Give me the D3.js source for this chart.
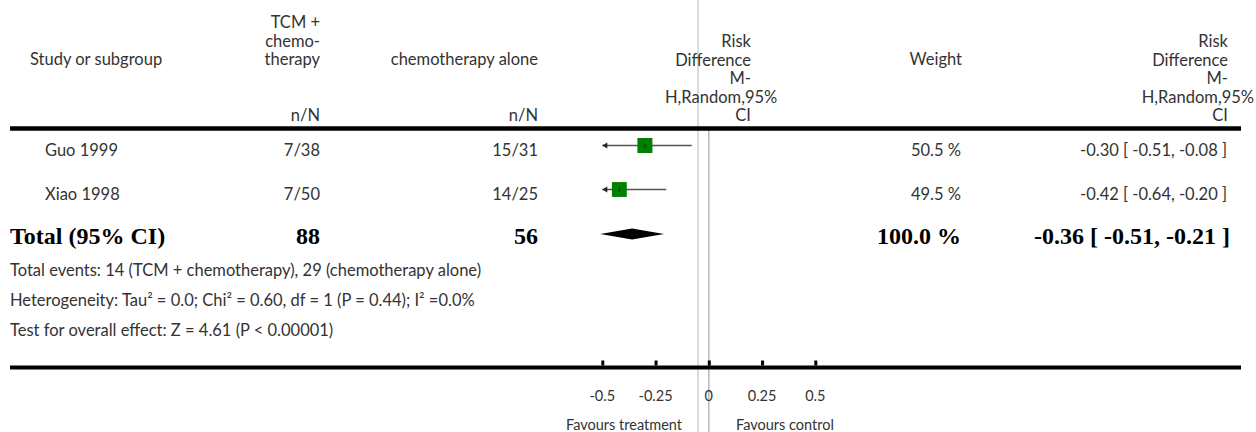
<!DOCTYPE html>
<html><head><meta charset="utf-8">
<script src="https://cdn.jsdelivr.net/npm/d3@7"></script>
<style>
html,body{margin:0;padding:0;background:#fff;}
svg{display:block;}
</style></head>
<body>
<svg id="c" width="1256" height="432"></svg>
<script>
const studies = ["Guo 1999", "Xiao 1998"];
const treatEvents = ["7/38", "7/50"];
const controlEvents = ["15/31", "14/25"];
const weights = [50.5, 49.5];
const estimates = [-0.30, -0.42];
const lower = [-0.51, -0.64];
const upper = [-0.08, -0.20];
const totalLabel = "Total (95% CI)";
const totalTreat = 88;
const totalControl = 56;
const totalWeight = 100.0;
const totalEst = -0.36, totalLo = -0.51, totalHi = -0.21;
const tickValues = [-0.5, -0.25, 0, 0.25, 0.5];
const tickLabels = ["-0.5", "-0.25", "0", "0.25", "0.5"];
const footnotes = [
  "Total events: 14 (TCM + chemotherapy), 29 (chemotherapy alone)",
  "Heterogeneity: Tau² = 0.0; Chi² = 0.60, df = 1 (P = 0.44); I² =0.0%",
  "Test for overall effect: Z = 4.61 (P < 0.00001)"
];
const favours = ["Favours treatment", "Favours control"];

const svg = d3.select("#c");
const SANS = "Lato, 'Open Sans', sans-serif";
const SERIF = "'Liberation Serif', 'Times New Roman', serif";
const FS = 16.5;
const col = "#333";

const x = d3.scaleLinear().domain([-0.5, 0.5]).range([602.3, 815.3]);
const fmt2 = v => d3.format(".2f")(v).replace("−", "-");
const fmtCI = (e, l, h) => `${fmt2(e)} [ ${fmt2(l)}, ${fmt2(h)} ]`;

// vertical light separator and zero line
svg.append("line").attr("x1", 698).attr("x2", 698).attr("y1", 0).attr("y2", 432)
  .attr("stroke", "#dcdcdc").attr("stroke-width", 2);
svg.append("line").attr("x1", x(0)).attr("x2", x(0)).attr("y1", 130).attr("y2", 432)
  .attr("stroke", "#b8b8b8").attr("stroke-width", 1.5);

function txt(s, tx, ty, anchor, opts = {}) {
  return svg.append("text").attr("x", tx).attr("y", ty).attr("text-anchor", anchor || "start")
    .attr("font-family", opts.family || SANS).attr("font-size", opts.size || FS)
    .attr("font-weight", opts.weight || "normal").attr("fill", opts.fill || col).text(s);
}

// header
txt("Study or subgroup", 30, 65, "start");
["TCM +", "chemo-", "therapy"].forEach((s, i) => txt(s, 320, 28 + i * 18.5, "end"));
txt("n/N", 320, 121, "end");
txt("chemotherapy alone", 538, 65, "end");
txt("n/N", 538, 121, "end");
const rdLines = ["Risk", "Difference", "M-", "H,Random,95%", "CI"];
rdLines.forEach((s, i) => {
  if (i === 3) txt(s, 665, 47 + i * 18.5, "start");
  else txt(s, 751, 47 + i * 18.5, "end");
});
txt("Weight", 962, 65, "end");
rdLines.forEach((s, i) => {
  if (i === 3) txt(s, 1254, 47 + i * 18.5, "end");
  else txt(s, 1228, 47 + i * 18.5, "end");
});

// header rule
svg.append("line").attr("x1", 10).attr("x2", 1241).attr("y1", 128.5).attr("y2", 128.5)
  .attr("stroke", "#000").attr("stroke-width", 4.5);

// study rows
const rowY = [145.5, 189.5];
const sq = d3.scaleSqrt().domain([0, 50.5]).range([0, 15]);
studies.forEach((s, i) => {
  const y = rowY[i];
  const ty = y + 10;
  txt(s, 45, ty, "start");
  txt(treatEvents[i], 320, ty, "end");
  txt(controlEvents[i], 538, ty, "end");
  txt(weights[i].toFixed(1) + " %", 961, ty, "end");
  txt(fmtCI(estimates[i], lower[i], upper[i]), 1227, ty, "end");

  const lo = Math.max(lower[i], x.domain()[0]);
  const hi = Math.min(upper[i], x.domain()[1]);
  const g = svg.append("g");
  g.append("line").attr("x1", x(lo)).attr("x2", x(hi)).attr("y1", y).attr("y2", y)
    .attr("stroke", "#555").attr("stroke-width", 1.5);
  if (lower[i] < x.domain()[0]) {
    const ax = x(x.domain()[0]);
    g.append("path").attr("d", `M${ax},${y} L${ax + 5},${y - 3} L${ax + 5},${y + 3} Z`).attr("fill", "#222");
  }
  const w = sq(weights[i]);
  g.append("rect").attr("x", x(estimates[i]) - w / 2).attr("y", y - w / 2)
    .attr("width", w).attr("height", w).attr("fill", "#008000");
  g.append("line").attr("x1", x(estimates[i])).attr("x2", x(estimates[i]))
    .attr("y1", y - 2.5).attr("y2", y + 2.5).attr("stroke", "#222").attr("stroke-width", 1);
});

// total row
const tY = 234;
const bopt = { family: SERIF, size: 24, weight: "bold", fill: "#000" };
txt(totalLabel, 10, tY + 10, "start", bopt);
txt(String(totalTreat), 320, tY + 10, "end", bopt);
txt(String(totalControl), 538, tY + 10, "end", bopt);
txt(totalWeight.toFixed(1) + " %", 961, tY + 10, "end", bopt);
txt(fmtCI(totalEst, totalLo, totalHi), 1230, tY + 10, "end", bopt);
svg.append("path").attr("d",
  `M${x(totalLo)},${tY} L${x(totalEst)},${tY - 5.5} L${x(totalHi)},${tY} L${x(totalEst)},${tY + 5.5} Z`)
  .attr("fill", "#000");

// footnotes
footnotes.forEach((s, i) => txt(s, 10, 276 + i * 30, "start"));

// axis
const axisY = 367.5;
svg.append("line").attr("x1", 10).attr("x2", 1241).attr("y1", axisY).attr("y2", axisY)
  .attr("stroke", "#000").attr("stroke-width", 4);
const ax = svg.append("g").attr("transform", `translate(0,${axisY - 2})`)
  .call(d3.axisTop(x).tickValues(tickValues).tickSize(5).tickFormat(""));
ax.select(".domain").remove();
ax.selectAll(".tick line").attr("stroke", "#000").attr("stroke-width", 3);
tickValues.forEach((v, i) => txt(tickLabels[i], x(v), 401, "middle", { size: 14.5 }));
txt(favours[0], 682, 430, "end", { size: 14.5 });
txt(favours[1], 736, 430, "start", { size: 14.5 });
</script>
</body></html>
